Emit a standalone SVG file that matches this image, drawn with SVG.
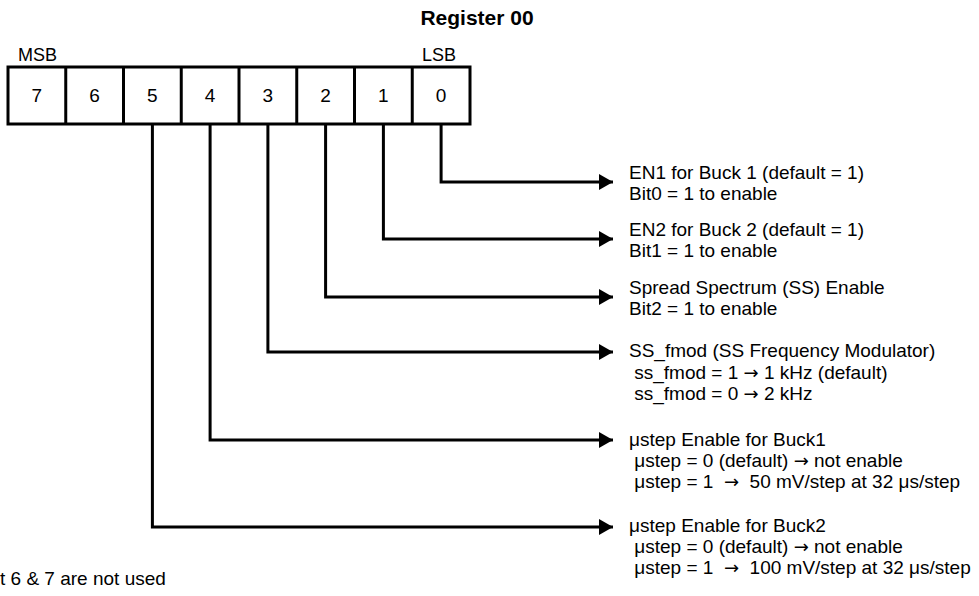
<svg xmlns="http://www.w3.org/2000/svg" width="979" height="596" viewBox="0 0 979 596">
<style>
text{font-family:"Liberation Sans",Arial,sans-serif;fill:#000;white-space:pre}
.t{font-size:19px}
.d{font-size:19px;text-anchor:middle}
.h{font-size:21px;font-weight:bold;text-anchor:middle}
.m{font-size:18px}
.a{font-family:"DejaVu Sans",sans-serif;font-size:18px}
.box{fill:#fff;stroke:#000;stroke-width:3}
.div{stroke:#000;stroke-width:3}
.c{fill:none;stroke:#000;stroke-width:3}
</style>
<defs>
<marker id="ah" markerUnits="userSpaceOnUse" markerWidth="15" markerHeight="16" refX="14" refY="8" orient="auto">
<path d="M0,0 L14,8 L0,16 z" fill="#000"/>
</marker>
</defs>
<rect width="979" height="596" fill="#fff"/>
<text class="h" x="477" y="25">Register 00</text>
<g id="register">
<text class="m" x="18" y="61">MSB</text>
<text class="m" x="422" y="61">LSB</text>
<rect class="box" x="8" y="67" width="462" height="57"/>
<line class="div" x1="65.75" y1="67" x2="65.75" y2="124"/>
<line class="div" x1="123.5" y1="67" x2="123.5" y2="124"/>
<line class="div" x1="181.25" y1="67" x2="181.25" y2="124"/>
<line class="div" x1="239" y1="67" x2="239" y2="124"/>
<line class="div" x1="296.75" y1="67" x2="296.75" y2="124"/>
<line class="div" x1="354.5" y1="67" x2="354.5" y2="124"/>
<line class="div" x1="412.25" y1="67" x2="412.25" y2="124"/>
<text class="d" x="36.9" y="102">7</text>
<text class="d" x="94.6" y="102">6</text>
<text class="d" x="152.4" y="102">5</text>
<text class="d" x="210.1" y="102">4</text>
<text class="d" x="267.9" y="102">3</text>
<text class="d" x="325.6" y="102">2</text>
<text class="d" x="383.4" y="102">1</text>
<text class="d" x="441.1" y="102">0</text>
</g>
<g id="connectors">
<path class="c" d="M441.1 124 V182 H613" marker-end="url(#ah)"/>
<path class="c" d="M383.4 124 V239 H613" marker-end="url(#ah)"/>
<path class="c" d="M325.6 124 V297 H613" marker-end="url(#ah)"/>
<path class="c" d="M267.9 124 V352 H613" marker-end="url(#ah)"/>
<path class="c" d="M210.1 124 V440 H613" marker-end="url(#ah)"/>
<path class="c" d="M152.4 124 V527 H613" marker-end="url(#ah)"/>
</g>
<g id="bit0">
<text class="t" x="629" y="179">EN1 for Buck 1 (default = 1)</text>
<text class="t" x="629" y="200">Bit0 = 1 to enable</text>
</g>
<g id="bit1">
<text class="t" x="629" y="236">EN2 for Buck 2 (default = 1)</text>
<text class="t" x="629" y="257">Bit1 = 1 to enable</text>
</g>
<g id="bit2">
<text class="t" x="629" y="294">Spread Spectrum (SS) Enable</text>
<text class="t" x="629" y="315">Bit2 = 1 to enable</text>
</g>
<g id="bit3">
<text class="t" x="629" y="357">SS_fmod (SS Frequency Modulator)</text>
<text class="t" x="629" y="379"> ss_fmod = 1 <tspan class="a">→</tspan> 1 kHz (default)</text>
<text class="t" x="629" y="400"> ss_fmod = 0 <tspan class="a">→</tspan> 2 kHz</text>
</g>
<g id="bit4">
<text class="t" x="629" y="446">μstep Enable for Buck1</text>
<text class="t" x="629" y="467"> μstep = 0 (default) <tspan class="a">→</tspan> not enable</text>
<text class="t" x="629" y="488"> μstep = 1  <tspan class="a">→</tspan>  50 mV/step at 32 μs/step</text>
</g>
<g id="bit5">
<text class="t" x="629" y="532">μstep Enable for Buck2</text>
<text class="t" x="629" y="553"> μstep = 0 (default) <tspan class="a">→</tspan> not enable</text>
<text class="t" x="629" y="574"> μstep = 1  <tspan class="a">→</tspan>  100 mV/step at 32 μs/step</text>
</g>
<g id="note">
<text class="t" x="0" y="585">t 6 &amp; 7 are not used</text>
</g>
</svg>
